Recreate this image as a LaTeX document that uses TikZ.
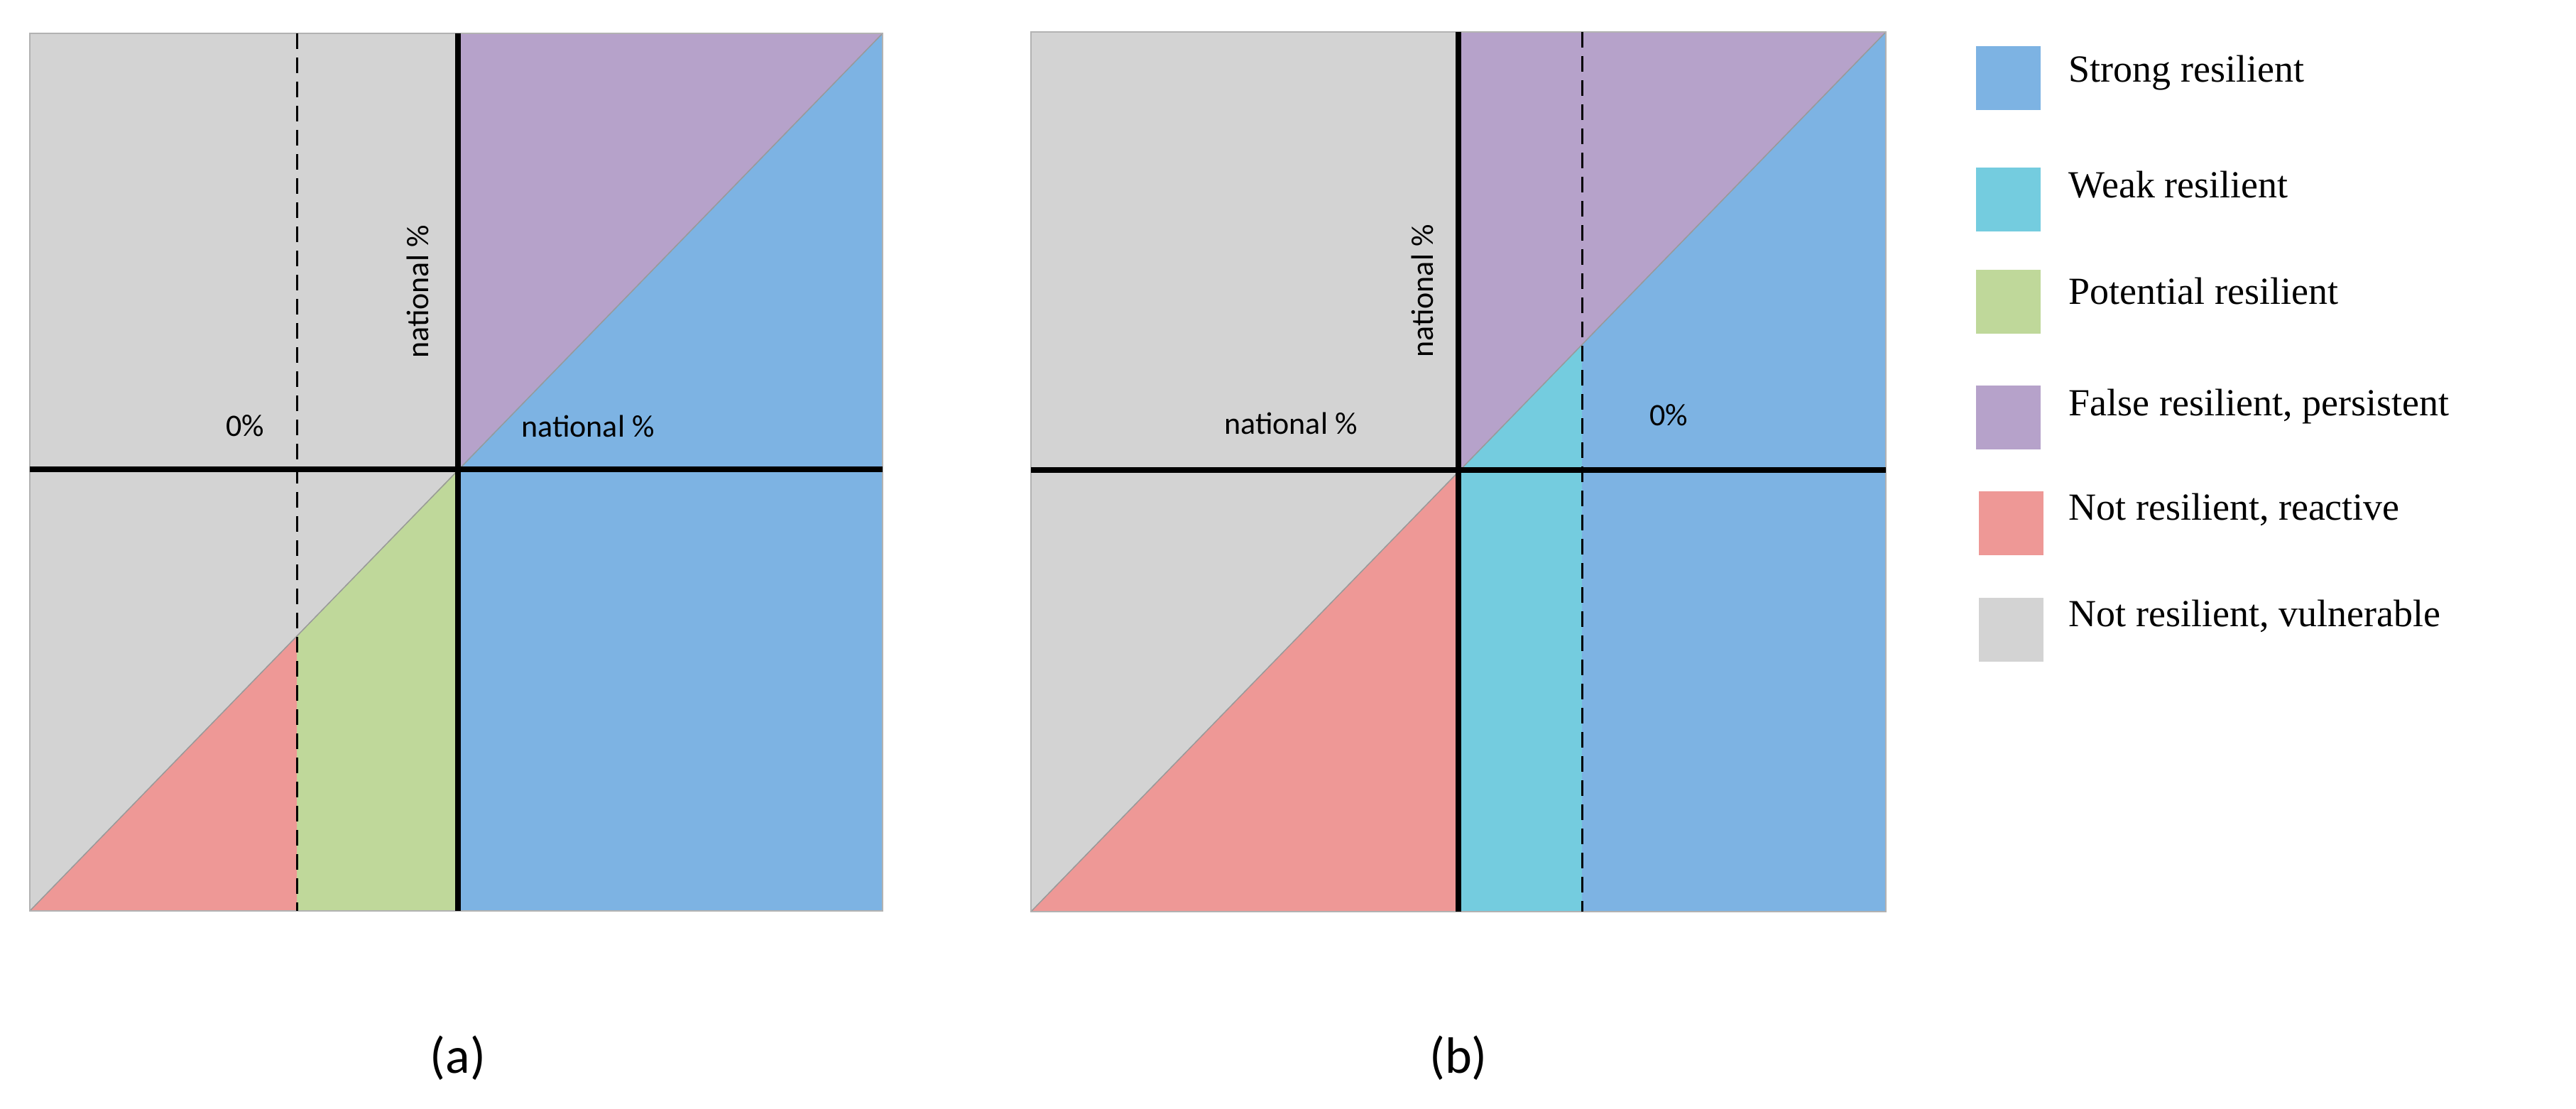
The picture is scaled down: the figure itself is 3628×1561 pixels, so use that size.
\documentclass[tikz,border=0pt]{standalone}
\usepackage{fontspec}
\setmainfont{Liberation Serif}
\newfontfamily\lblfont{Carlito}
\definecolor{cgray}{HTML}{D3D3D3}
\definecolor{cpurple}{HTML}{B6A2CA}
\definecolor{cblue}{HTML}{7DB3E3}
\definecolor{ccyan}{HTML}{74CCDF}
\definecolor{cgreen}{HTML}{BFD89A}
\definecolor{cred}{HTML}{EE9896}
\begin{document}
\begin{tikzpicture}[x=1pt,y=-1pt,
  axis/.style={line width=8pt},
  dashline/.style={line width=3pt,dash pattern=on 22pt off 12pt},
  lbl/.style={font=\lblfont\fontsize{44}{50}\selectfont},
  leg/.style={font=\fontsize{54}{60}\selectfont,anchor=west},
  sw/.style={minimum width=91pt,minimum height=90pt,inner sep=0pt}]
\useasboundingbox (0,0) rectangle (3628,1561);
% ---- panel (a)
\fill[cgray] (42,47) rectangle (1243,1283);
\fill[cpurple] (645,47) -- (1243,47) -- (645,661) -- cycle;
\fill[cblue] (1243,47) -- (1243,1283) -- (645,1283) -- (645,661) -- cycle;
\fill[cgreen] (645,661) -- (645,1283) -- (418,1283) -- (418,896) -- cycle;
\fill[cred] (418,896) -- (418,1283) -- (42,1283) -- cycle;
\draw[gray!80,line width=1.5pt] (42,1283) -- (1243,47);
\draw[gray!60,line width=2pt] (42,47) rectangle (1243,1283);
\draw[dashline] (418,47) -- (418,1283);
\draw[axis] (42,661) -- (1243,661);
\draw[axis] (645,47) -- (645,1283);
\node[lbl] (a0) at (345,600) {0\%};
\node[lbl,rotate=90] (av) at (588,411) {national \%};
\node[lbl] (ah) at (828,600) {national \%};
\node[font=\lblfont\fontsize{72}{80}\selectfont] (acap) at (645,1490) {(a)};
% ---- panel (b)
\fill[cgray] (1452,45) rectangle (2656,1284);
\fill[cpurple] (2054,45) -- (2656,45) -- (2054,665) -- cycle;
\fill[cred] (1452,1284) -- (2054,665) -- (2054,1284) -- cycle;
\fill[ccyan] (2054,665) -- (2228,485) -- (2228,1284) -- (2054,1284) -- cycle;
\fill[cblue] (2228,485) -- (2656,45) -- (2656,1284) -- (2228,1284) -- cycle;
\draw[gray!80,line width=1.5pt] (1452,1284) -- (2656,45);
\draw[gray!60,line width=2pt] (1452,45) rectangle (2656,1284);
\draw[dashline] (2228,45) -- (2228,1284);
\draw[axis] (1452,662) -- (2656,662);
\draw[axis] (2054,45) -- (2054,1284);
\node[lbl] (bh) at (1818,596) {national \%};
\node[lbl,rotate=90] (bv) at (2003,410) {national \%};
\node[lbl] (b0) at (2350,585) {0\%};
\node[font=\lblfont\fontsize{72}{80}\selectfont] (bcap) at (2054,1490) {(b)};
% ---- legend
\node[sw,fill=cblue] (l1) at (2828,110) {};
\node[sw,fill=ccyan] (l2) at (2828,281) {};
\node[sw,fill=cgreen] (l3) at (2828,425) {};
\node[sw,fill=cpurple] (l4) at (2828,588) {};
\node[sw,fill=cred] (l5) at (2832,737) {};
\node[sw,fill=cgray] (l6) at (2832,887) {};
\node[leg] (t1) at (2910,103) {Strong resilient};
\node[leg] (t2) at (2910,260) {Weak resilient};
\node[leg] (t3) at (2910,410) {Potential resilient};
\node[leg] (t4) at (2910,573) {False resilient, persistent};
\node[leg] (t5) at (2910,718) {Not resilient, reactive};
\node[leg] (t6) at (2910,868) {Not resilient, vulnerable};
\end{tikzpicture}
\end{document}
